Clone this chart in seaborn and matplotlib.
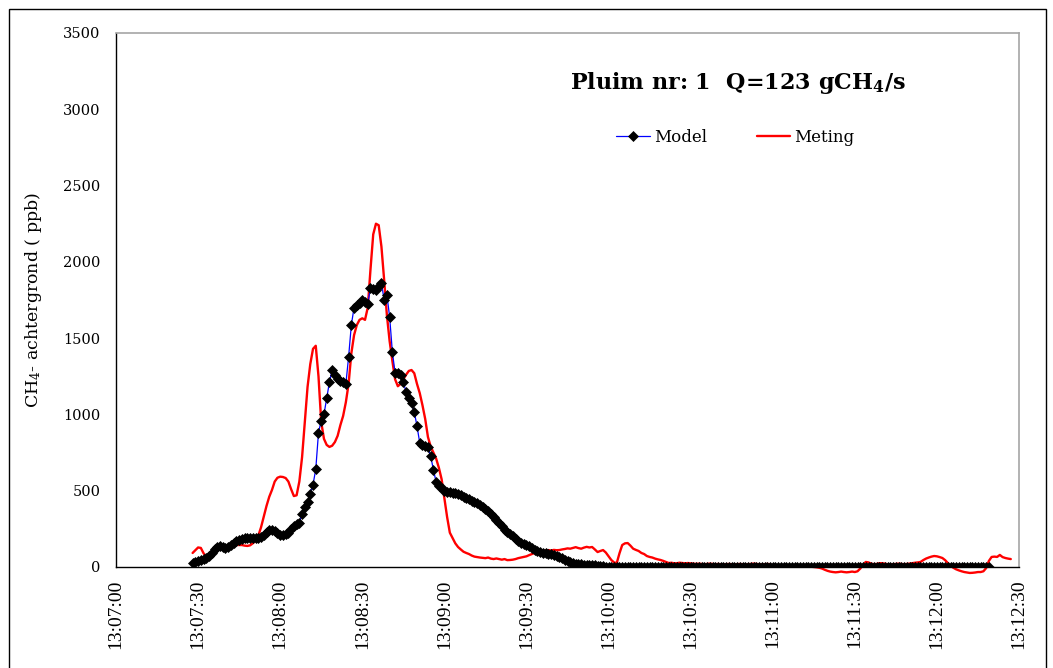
import numpy as np
import pandas as pd
import matplotlib
matplotlib.use("Agg")
import matplotlib.pyplot as plt
import seaborn as sns
from matplotlib.patches import Rectangle

# ---------------- data ----------------
model_start = "2000-01-01 13:07:28"
meting_start = "2000-01-01 13:07:28"

model_values = [
    28, 35, 40, 45, 52, 60, 75, 95, 115, 130,
    135, 128, 125, 132, 145, 160, 172, 180, 185, 188,
    188, 190, 192, 190, 193, 197, 210, 228, 240, 242,
    235, 225, 212, 208, 215, 225, 250, 272, 280, 290,
    350, 395, 426, 480, 540, 640, 880, 960, 1000, 1108,
    1212, 1290, 1260, 1230, 1220, 1210, 1200, 1376, 1586, 1700,
    1715, 1730, 1750, 1740, 1724, 1829, 1820, 1816, 1840, 1861,
    1750, 1783, 1639, 1409, 1271, 1271, 1260, 1213, 1147, 1108,
    1075, 1016, 924, 813, 800, 795, 787, 727, 636, 557,
    530, 515, 500, 492, 490, 487, 485, 478, 470, 460,
    452, 445, 435, 425, 419, 405, 390, 378, 365, 345,
    325, 308, 290, 270, 245, 229, 215, 200, 185, 172,
    160, 150, 144, 135, 125, 112, 105, 98, 95, 92,
    88, 82, 76, 70, 66, 58, 48, 40, 32, 26,
    22, 20, 18, 16, 15, 14, 13, 10, 8, 6,
    4, 2, 1, 0, 2, 1, 0, 1, 2, 0,
    1, 0, 2, 1, 0, 1, 0, 2, 1, 0,
    1, 2, 0, 1, 0, 1, 2, 1, 0, 1,
    0, 1, 2, 0, 1, 0, 1, 0, 2, 1,
    0, 1, 0, 1, 2, 0, 1, 0, 1, 2,
    1, 0, 1, 0, 2, 1, 0, 1, 0, 1,
    2, 0, 1, 0, 1, 2, 1, 0, 1, 0,
    1, 2, 0, 1, 0, 1, 0, 2, 1, 0,
    1, 0, 1, 2, 0, 1, 0, 1, 2, 1,
    0, 1, 0, 2, 1, 0, 1, 0, 1, 2,
    0, 1, 0, 1, 2, 1, 0, 1, 0, 1,
    2, 0, 1, 0, 1, 0, 2, 1, 0, 1,
    0, 1, 2, 0, 1, 0, 1, 2, 1, 0,
    1, 0, 2, 1, 0, 1, 0, 1, 2, 0,
    1, 0,
]

meting_values = [
    92, 110, 128, 125, 90, 68, 80, 100, 118, 130,
    138, 140, 138, 140, 142, 145, 145, 144, 144, 140,
    138, 142, 155, 172, 205, 260, 330, 400, 460, 505,
    560, 585, 592, 590, 583, 560, 510, 465, 470, 560,
    720, 950, 1180, 1330, 1430, 1450, 1250, 950, 840, 800,
    787, 795, 819, 860, 930, 990, 1080, 1200, 1400, 1520,
    1586, 1620, 1630, 1620, 1700, 1950, 2180, 2250, 2240, 2100,
    1880, 1650, 1480, 1350, 1230, 1185, 1200, 1230, 1260, 1285,
    1291, 1270, 1200, 1140, 1060, 970, 852, 790, 750, 710,
    650, 575, 450, 328, 225, 190, 155, 131, 115, 100,
    92, 85, 75, 68, 65, 62, 60, 58, 62, 55,
    52, 56, 52, 48, 52, 45, 46, 48, 52, 58,
    62, 66, 70, 78, 85, 92, 98, 102, 105, 108,
    111, 108, 112, 110, 111, 115, 118, 122, 120, 125,
    130, 124, 120, 127, 132, 128, 131, 115, 98, 105,
    111, 95, 70, 46, 30, 26, 90, 144, 155, 157,
    140, 120, 112, 105, 92, 85, 72, 66, 62, 55,
    50, 46, 40, 33, 26, 28, 24, 25, 28, 26,
    24, 26, 24, 22, 20, 22, 20, 18, 20, 22,
    20, 18, 20, 18, 16, 18, 20, 18, 16, 18,
    20, 18, 16, 18, 20, 22, 20, 18, 16, 18,
    20, 18, 10, 8, 12, 10, 8, 6, 8, 10,
    6, 4, 2, 4, 6, 4, 2, 0, -2, -5,
    -10, -18, -25, -30, -33, -35, -33, -30, -33, -35,
    -33, -30, -33, -28, -10, 15, 33, 30, 22, 18,
    20, 25, 25, 22, 18, 15, 18, 20, 22, 20,
    18, 20, 22, 25, 28, 30, 33, 45, 55, 62,
    68, 72, 70, 65, 59, 45, 26, 10, -5, -15,
    -22, -28, -33, -36, -39, -38, -36, -33, -33, -28,
    -7, 40, 66, 68, 66, 79, 65, 59, 55, 52,
]

y_ticks = [0, 500, 1000, 1500, 2000, 2500, 3000, 3500]
x_tick_labels = ["13:07:00", "13:07:30", "13:08:00", "13:08:30", "13:09:00", "13:09:30",
                 "13:10:00", "13:10:30", "13:11:00", "13:11:30", "13:12:00", "13:12:30"]
series_names = ["Model", "Meting"]
title_text = r"Pluim nr: 1  Q=123 gCH$_{\mathbf{4}}$/s"
ylabel_text = r"CH$_{4}$- achtergrond ( ppb)"

# ---------------- frames ----------------
model_df = pd.DataFrame({
    "time": pd.date_range(model_start, periods=len(model_values), freq="s"),
    "value": model_values,
})
meting_df = pd.DataFrame({
    "time": pd.date_range(meting_start, periods=len(meting_values), freq="s"),
    "value": meting_values,
})

# ---------------- style ----------------
sns.set_style("white")
plt.rcParams["font.family"] = ["DejaVu Serif"]
plt.rcParams["mathtext.fontset"] = "dejavuserif"
plt.rcParams["text.color"] = "black"
plt.rcParams["axes.labelcolor"] = "black"
plt.rcParams["xtick.color"] = "black"
plt.rcParams["ytick.color"] = "black"

W, H = 1053, 668
fig = plt.figure(figsize=(W / 100, H / 100), dpi=100)
ax = fig.add_axes([116 / W, 1 - 567 / H, (1019 - 116) / W, (567 - 33) / H])

sns.lineplot(data=meting_df, x="time", y="value", ax=ax, color="red", lw=1.7,
             estimator=None, sort=False, label=series_names[1], clip_on=False)
sns.lineplot(data=model_df, x="time", y="value", ax=ax, color="blue", lw=0.9,
             marker="D", markersize=5.5, markerfacecolor="black", markeredgecolor="black",
             markeredgewidth=0.5, estimator=None, sort=False, label=series_names[0])

tick_pos = [pd.Timestamp("2000-01-01 " + s) for s in x_tick_labels]
ax.set_xlim(tick_pos[0], tick_pos[-1])
ax.set_xticks(tick_pos)
ax.set_xticklabels(x_tick_labels, rotation=90, fontsize=14, family="Liberation Serif",
                   color="black")
ax.set_ylim(y_ticks[0], y_ticks[-1])
ax.set_yticks(y_ticks)
ax.set_yticklabels([str(v) for v in y_ticks], fontsize=10.5, color="black")
ax.set_xlabel("")
ax.set_ylabel(ylabel_text, fontsize=12.5, labelpad=14, color="black")

ax.tick_params(axis="x", direction="inout", length=10, width=1, color="black", pad=4)
ax.tick_params(axis="y", direction="inout", length=10, width=1, color="black", pad=6)
for s in ["left", "bottom"]:
    ax.spines[s].set_color("black")
    ax.spines[s].set_linewidth(1)
for s in ["top", "right"]:
    ax.spines[s].set_color("#a6a6a6")
    ax.spines[s].set_linewidth(1.2)
ax.set_facecolor("white")

ax.text(0.689, 0.906, title_text, transform=ax.transAxes, ha="center", va="center",
        fontsize=16, fontweight="bold", color="black")

handles, labels = ax.get_legend_handles_labels()
order = [labels.index(series_names[0]), labels.index(series_names[1])]
leg = ax.legend([handles[i] for i in order], [labels[i] for i in order], ncol=2, frameon=False,
                loc="center", bbox_to_anchor=(0.686, 0.805), fontsize=12, handlelength=2.0,
                handletextpad=0.25, columnspacing=3.0, numpoints=1)
for t in leg.get_texts():
    t.set_color("black")

fig.patches.append(Rectangle((9 / W, -0.05), (1046 - 9) / W, 1.05 - 9 / H,
                             transform=fig.transFigure, fill=False, ec="black", lw=1))

fig.savefig("out.png", dpi=100)
